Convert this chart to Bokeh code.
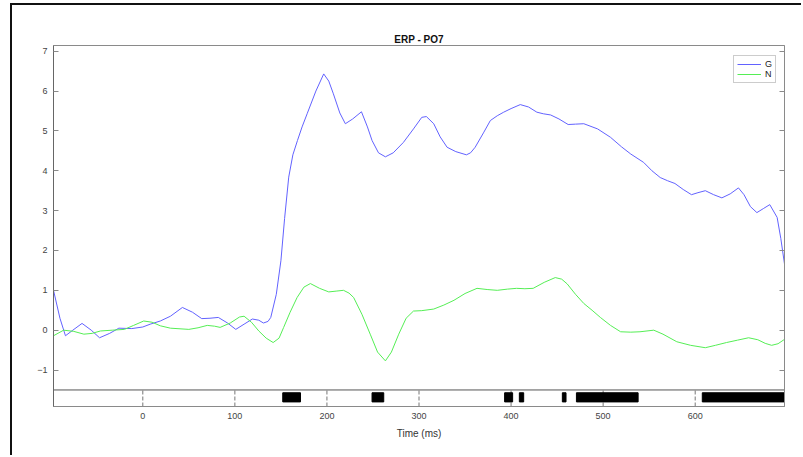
import math
from bokeh.plotting import figure
from bokeh.models import Range1d, FixedTicker, LinearAxis, Label
from bokeh.embed import file_html
from bokeh.resources import INLINE

# ---- data ----
g_time = [-97, -90, -84, -76, -66, -56, -47, -36, -26, -12, 0, 8, 19, 30, 43, 54, 64, 73, 82, 92,
          101, 110, 119, 126, 131, 136, 139, 145, 150, 154, 158.5, 163, 168, 173, 178.5, 188, 196.5,
          202, 207, 214, 220, 228, 237.5, 244, 249, 256, 263.5, 272, 283, 294, 303, 308, 316, 323,
          330.5, 340, 351.5, 356, 361, 370, 377.5, 385, 392, 400, 410, 419, 428, 435, 443, 452, 462,
          470, 479, 494, 508, 520, 530, 544, 553, 562, 570, 578, 587, 596, 603, 611, 620, 629, 638,
          647, 653, 660, 667, 674, 681, 689, 693, 697]
g_vals = [1.0, 0.3, -0.14, 0.0, 0.17, 0.0, -0.19, -0.08, 0.05, 0.04, 0.08, 0.15, 0.23, 0.35, 0.57,
          0.45, 0.29, 0.30, 0.32, 0.18, 0.02, 0.15, 0.28, 0.25, 0.18, 0.22, 0.32, 0.9, 1.74, 2.8, 3.84,
          4.4, 4.76, 5.1, 5.43, 6.0, 6.43, 6.25, 5.93, 5.45, 5.18, 5.3, 5.48, 5.1, 4.76, 4.45, 4.35,
          4.45, 4.71, 5.05, 5.34, 5.36, 5.18, 4.85, 4.59, 4.48, 4.40, 4.45, 4.59, 4.95, 5.26, 5.38,
          5.47, 5.56, 5.66, 5.6, 5.47, 5.43, 5.40, 5.3, 5.16, 5.17, 5.18, 5.05, 4.84, 4.6, 4.42, 4.21,
          4.0, 3.83, 3.75, 3.68, 3.53, 3.40, 3.45, 3.50, 3.4, 3.32, 3.42, 3.57, 3.4, 3.1, 2.95, 3.05,
          3.15, 2.83, 2.3, 1.66]

n_time = [-97, -86, -75, -64, -55, -46, -33, -20, -10, 1, 10, 19, 30, 50, 60, 70, 78, 84, 95, 105,
          110, 118, 126, 134, 141.6, 148, 153, 160, 167.6, 175, 182, 192, 202, 210, 218, 224, 229,
          238, 247, 255, 263.5, 270, 278, 286, 294, 303, 316, 327, 338, 350, 363, 374, 385, 396, 406,
          415, 424, 436, 448, 455, 461, 470, 479, 488, 497, 508, 519, 530, 540, 555, 565, 580, 595,
          611, 622, 634, 646, 658, 668, 676, 683, 690, 697]
n_vals = [-0.14, 0.0, -0.03, -0.10, -0.08, -0.02, 0.0, 0.02, 0.12, 0.23, 0.2, 0.11, 0.05, 0.02,
          0.06, 0.12, 0.1, 0.07, 0.18, 0.33, 0.35, 0.2, -0.02, -0.2, -0.31, -0.2, 0.07, 0.45, 0.82,
          1.08, 1.17, 1.05, 0.96, 0.98, 1.0, 0.93, 0.82, 0.4, -0.10, -0.55, -0.77, -0.55, -0.10, 0.3,
          0.48, 0.49, 0.53, 0.63, 0.75, 0.92, 1.05, 1.02, 1.0, 1.03, 1.05, 1.04, 1.05, 1.2, 1.32,
          1.28, 1.16, 0.9, 0.67, 0.5, 0.32, 0.12, -0.04, -0.05, -0.04, 0.0, -0.1, -0.29, -0.38, -0.44,
          -0.38, -0.31, -0.25, -0.19, -0.24, -0.33, -0.38, -0.34, -0.23]

sig_start = [152, 249, 393, 409, 455.7, 471, 607.7]
sig_end = [171.3, 261.7, 401.7, 413.7, 459.7, 538, 697]

x_ticks = [0, 100, 200, 300, 400, 500, 600]
y_ticks = [-1, 0, 1, 2, 3, 4, 5, 6, 7]

x_lim = (-97, 697)
y_lim = (-1.915, 7.143)
strip_line = -1.5
bar_bottom, bar_top = -1.8, -1.57

# ---- figure ----
FONT = "Liberation Sans"
BOX = "#8a8a8a"

p = figure(width=791, height=452, x_range=Range1d(*x_lim), y_range=Range1d(*y_lim),
           output_backend="svg", toolbar_location=None,
           min_border_left=41, min_border_right=19, min_border_top=40, min_border_bottom=51,
           title="ERP - PO7")
p.styles = {"margin-top": "3px", "margin-left": "10px",
            "border-top": "2px solid #111", "border-left": "2px solid #111"}

p.title.align = "center"
p.title.text_font = FONT
p.title.text_font_size = "10px"
p.title.text_font_style = "bold"
p.title.text_color = "#111"
p.title.standoff = 2

p.outline_line_color = BOX
p.outline_line_width = 1
p.xgrid.visible = False
p.ygrid.visible = False

# axes
xa = p.xaxis[0]
xa.ticker = FixedTicker(ticks=x_ticks)
xa.major_tick_in = 0
xa.major_tick_out = 0
xa.minor_tick_line_color = None
xa.axis_line_color = BOX
xa.major_label_text_font = FONT
xa.major_label_text_font_size = "9px"
xa.major_label_text_color = "#444"
xa.major_label_standoff = 6
xa.axis_label = "Time (ms)"
xa.axis_label_text_font = FONT
xa.axis_label_text_font_size = "10px"
xa.axis_label_text_font_style = "normal"
xa.axis_label_text_color = "#333"
xa.axis_label_standoff = 6

ya = p.yaxis[0]
ya.ticker = FixedTicker(ticks=y_ticks)
ya.major_tick_in = 5
ya.major_tick_out = 0
ya.major_tick_line_color = BOX
ya.minor_tick_line_color = None
ya.axis_line_color = "#666"
ya.major_label_text_font = FONT
ya.major_label_text_font_size = "9px"
ya.major_label_text_color = "#444"
ya.major_label_standoff = 6

ra = LinearAxis(ticker=FixedTicker(ticks=y_ticks), major_tick_in=5, major_tick_out=0,
                major_tick_line_color=BOX, minor_tick_line_color=None,
                axis_line_color=BOX, major_label_text_color=None,
                major_label_text_font_size="1px")
p.add_layout(ra, "right")

# y label placed like MATLAB (centered on upper axes)
p.add_layout(Label(x=-22, y=2.95, x_units="screen", y_units="data", text="Potential (\u03bcV)",
                   angle=math.pi / 2, text_align="center", text_baseline="middle",
                   text_font=FONT, text_font_size="10px", text_color="#333"))

# significance strip
p.segment(x0=x_lim[0], x1=x_lim[1], y0=strip_line, y1=strip_line, line_color="#555", line_width=1)
p.segment(x0=x_ticks, x1=x_ticks, y0=[y_lim[0]] * len(x_ticks), y1=[strip_line] * len(x_ticks),
          line_color="#777", line_width=1, line_dash="4 2")
p.quad(left=sig_start, right=sig_end, bottom=bar_bottom, top=bar_top,
       fill_color="black", line_color="black")

# ERP curves
p.line(g_time, g_vals, line_color="#6262ff", line_width=1, legend_label="G")
p.line(n_time, n_vals, line_color="#55ee55", line_width=1, legend_label="N")

lg = p.legend[0]
lg.location = (680, 323)
lg.margin = 0
lg.padding = 3
lg.spacing = 0
lg.label_text_font = FONT
lg.label_text_font_size = "9px"
lg.label_text_color = "#222"
lg.label_height = 10
lg.label_width = 6
lg.glyph_height = 10
lg.glyph_width = 24
lg.label_standoff = 4
lg.border_line_color = "#999"
lg.border_line_width = 1
lg.background_fill_alpha = 1

open("out.html", "w").write(file_html(p, INLINE))
